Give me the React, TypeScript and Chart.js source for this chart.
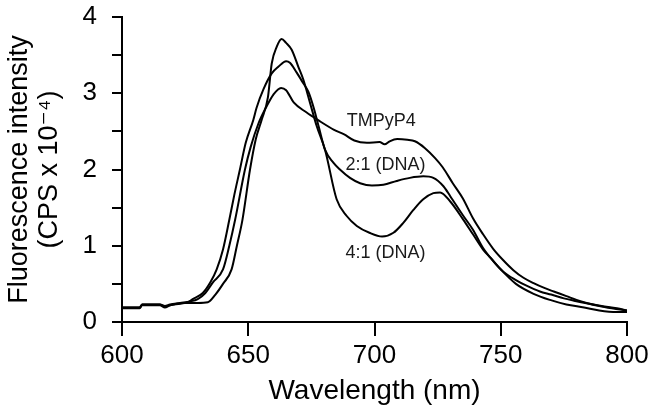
import React, { useEffect, useRef } from 'react';
import { Chart, registerables } from 'chart.js';

Chart.register(...registerables);

// ---- data ----
const tmpyp4Wavelength = [600,607,608,615,617,619,623,627,630,633,636,640,642.5,644.8,648.7,651,654,657.3,659.9,663,665,668,673,678,684,688,692,697,702,704,706,709,713,716,720,724,727,731,735,739,743,747,751,755,759,763,767,771,776,780,784,789,794,800];
const tmpyp4Intensity = [0.19,0.19,0.23,0.23,0.21,0.23,0.25,0.27,0.30,0.38,0.52,0.69,1.0,1.34,2.0,2.3,2.6,2.83,2.98,3.07,3.04,2.88,2.75,2.64,2.52,2.46,2.38,2.35,2.36,2.33,2.37,2.40,2.39,2.37,2.28,2.15,2.03,1.82,1.62,1.36,1.15,0.96,0.81,0.68,0.58,0.51,0.45,0.40,0.34,0.29,0.25,0.21,0.18,0.15];

const dna21Wavelength = [600,607,608,615,617,619,623,626,628,632,635,637.5,640,642.5,644.5,646.7,649,652,653.3,656,659.3,662,665,666.5,669.2,671.8,673.8,676,678,680.4,683.7,686.3,690.3,694.3,699,703.5,708.8,714,719.3,723.3,727.3,730,735,739,743,747,751,756,760,765.5,770,775,779,785,790,796,800];
const dna21Intensity = [0.19,0.19,0.23,0.23,0.20,0.22,0.24,0.26,0.30,0.38,0.52,0.69,0.95,1.34,1.67,2.0,2.35,2.65,2.81,3.05,3.26,3.35,3.42,3.40,3.27,3.13,3.02,2.80,2.55,2.26,2.09,2.0,1.89,1.82,1.79,1.80,1.85,1.89,1.91,1.89,1.78,1.65,1.40,1.21,0.97,0.80,0.66,0.55,0.48,0.40,0.36,0.31,0.28,0.24,0.21,0.18,0.15];

const dna41Wavelength = [600,607,608,615,617,619,625,630,634,637,640,643.4,645.5,647.7,650.7,653,655.3,657.8,659.3,661.3,663.2,665,667.2,669.8,671.8,674.5,677.1,680.4,685,689,693,698,703,707.5,711.4,715.4,719.3,723.3,726,730,735,739,743,746,750,756,763,769.5,776,783,789,796,800];
const dna41Intensity = [0.18,0.18,0.22,0.22,0.19,0.22,0.25,0.25,0.26,0.36,0.50,0.69,1.0,1.34,2.0,2.4,2.65,2.95,3.39,3.61,3.71,3.66,3.57,3.35,3.18,2.87,2.57,2.26,1.61,1.39,1.26,1.17,1.12,1.17,1.30,1.47,1.61,1.69,1.70,1.58,1.35,1.15,0.95,0.84,0.69,0.50,0.37,0.29,0.23,0.19,0.15,0.13,0.13];

const curveLabels = ['TMPyP4', '2:1 (DNA)', '4:1 (DNA)'];
const curveLabelWavelength = [689, 688.5, 688.5];
const curveLabelIntensity = [2.63, 2.06, 0.91];

const xTickValues = [600, 650, 700, 750, 800];
const yTickLabels = ['0', '1', '2', '3', '4'];

const FONT = "'Liberation Sans', Arial, 'DejaVu Sans', sans-serif";

function toPoints(xs: number[], ys: number[]) {
  return xs.map((x, i) => ({ x, y: ys[i] }));
}

const curveLabelPlugin = {
  id: 'curveLabels',
  afterDatasetsDraw(chart: any) {
    const { ctx, scales } = chart;
    ctx.save();
    ctx.font = `18px ${FONT}`;
    ctx.fillStyle = '#1a1a1a';
    ctx.textAlign = 'left';
    ctx.textBaseline = 'middle';
    curveLabels.forEach((t, i) => {
      const px = scales.x.getPixelForValue(curveLabelWavelength[i]);
      const py = scales.y.getPixelForValue(curveLabelIntensity[i]);
      ctx.fillText(t, px, py);
    });
    ctx.restore();
  },
};

export default function App() {
  const ref = useRef<HTMLCanvasElement>(null);

  useEffect(() => {
    if (!ref.current) return;
    const lineStyle = {
      borderColor: '#000',
      borderWidth: 2,
      pointRadius: 0,
      fill: false,
      cubicInterpolationMode: 'monotone' as const,
    };
    const chart = new Chart(ref.current, {
      type: 'line',
      data: {
        datasets: [
          { label: 'TMPyP4', data: toPoints(tmpyp4Wavelength, tmpyp4Intensity), ...lineStyle },
          { label: '2:1 (DNA)', data: toPoints(dna21Wavelength, dna21Intensity), ...lineStyle },
          { label: '4:1 (DNA)', data: toPoints(dna41Wavelength, dna41Intensity), ...lineStyle },
        ],
      },
      options: {
        animation: false,
        responsive: false,
        parsing: false as any,
        layout: { padding: { top: 17, right: 26, left: 0, bottom: 0 } },
        plugins: {
          legend: { display: false },
          tooltip: { enabled: false },
          title: { display: false },
        },
        scales: {
          x: {
            type: 'linear',
            min: 600,
            max: 800,
            afterBuildTicks: (s: any) => {
              s.ticks = xTickValues.map((v) => ({ value: v }));
            },
            afterFit: (s: any) => {
              s.height = 88;
              s.paddingLeft = 0;
              s.paddingRight = 0;
            },
            ticks: {
              autoSkip: false,
              maxRotation: 0,
              color: '#000',
              padding: 4,
              font: { family: FONT, size: 26 },
            },
            grid: {
              drawOnChartArea: false,
              drawTicks: true,
              tickLength: 14,
              color: '#000',
              lineWidth: 2,
            },
            border: { display: true, color: '#000', width: 2 },
            title: {
              display: true,
              text: 'Wavelength (nm)',
              color: '#000',
              font: { family: FONT, size: 28, lineHeight: 1.1 },
              padding: { top: 0, bottom: 3 },
            },
          },
          y: {
            type: 'linear',
            min: 0,
            max: 4,
            afterFit: (s: any) => {
              s.width = 122;
              s.paddingTop = 0;
              s.paddingBottom = 0;
            },
            ticks: {
              stepSize: 0.5,
              autoSkip: false,
              color: '#000',
              padding: 15,
              font: { family: FONT, size: 26 },
              callback: (v: any) => {
                const n = Number(v);
                return Number.isInteger(n) ? yTickLabels[n] : '';
              },
            },
            grid: {
              drawOnChartArea: false,
              drawTicks: true,
              tickLength: 10,
              color: '#000',
              lineWidth: 2,
            },
            border: { display: true, color: '#000', width: 2 },
            title: {
              display: true,
              text: ['Fluorescence intensity', '(CPS x 10\u207B\u2074)'],
              color: '#000',
              font: { family: FONT, size: 27, lineHeight: 1.1 },
              padding: { top: 5, bottom: 0 },
            },
          },
        },
      },
      plugins: [curveLabelPlugin],
    } as any);
    return () => chart.destroy();
  }, []);

  return (
    <div style={{ position: 'absolute', left: 0, top: 0, width: 653, height: 410, background: '#fff' }}>
      <canvas ref={ref} width={653} height={410} style={{ display: 'block' }} />
    </div>
  );
}
